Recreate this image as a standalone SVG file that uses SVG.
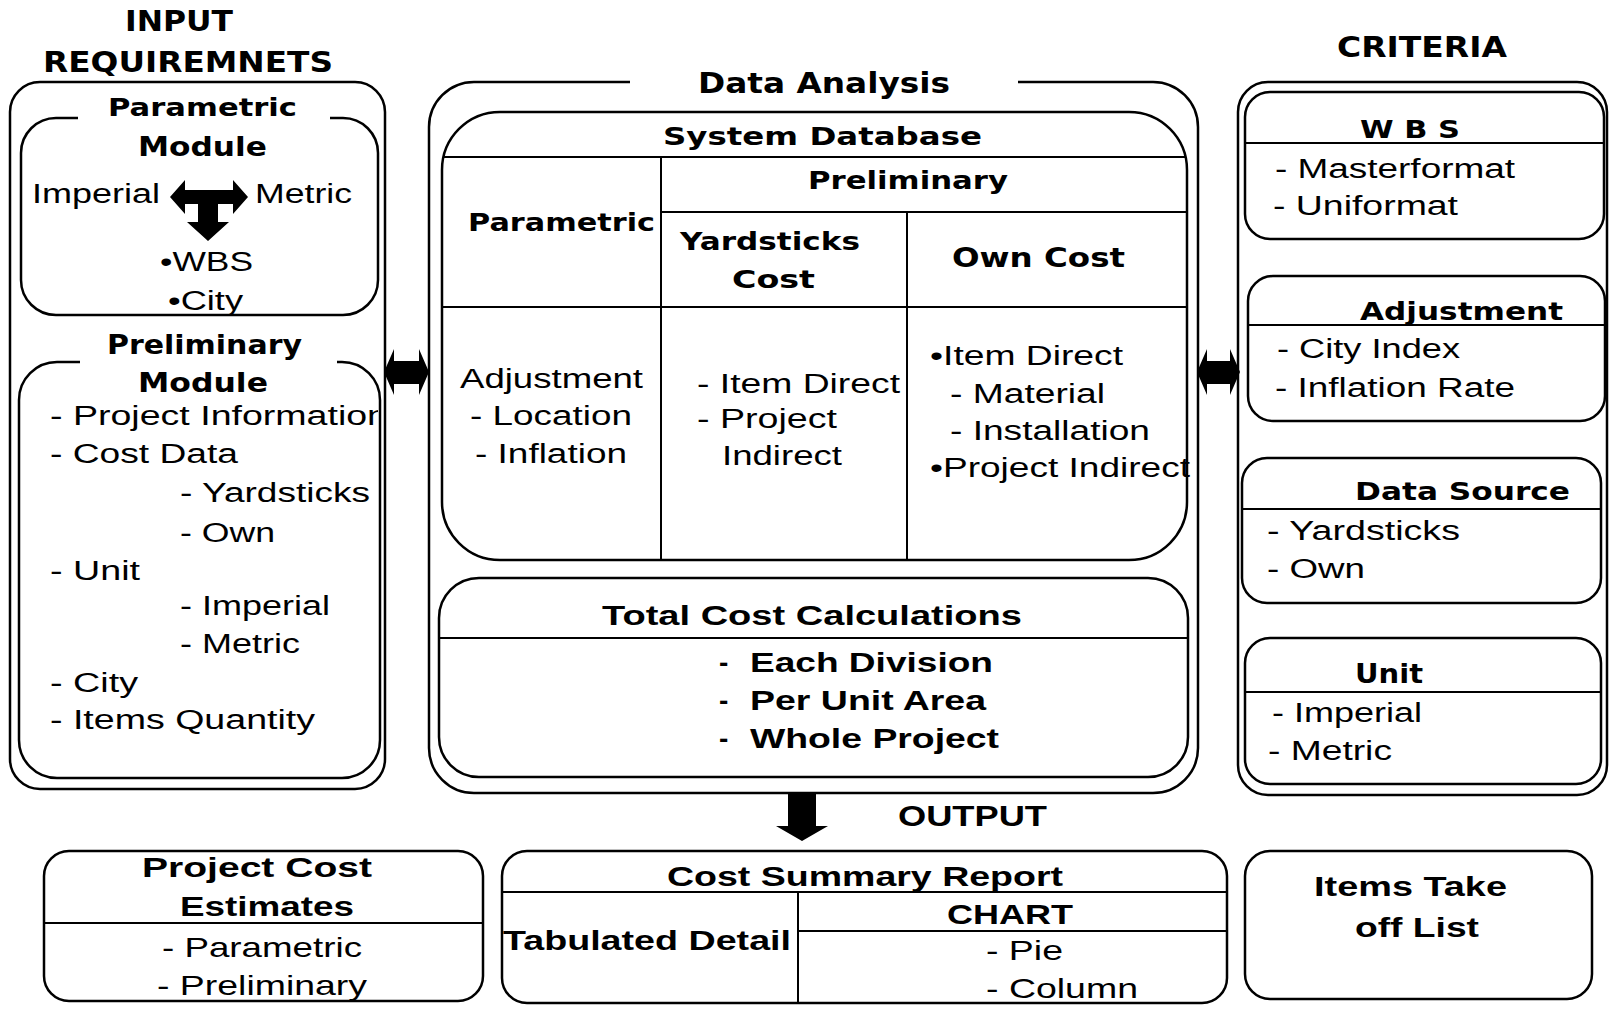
<svg xmlns="http://www.w3.org/2000/svg" width="1610" height="1009" viewBox="0 0 1610 1009">
<style>
.bx{fill:none;stroke:#000;stroke-width:2.5}
.ln{fill:none;stroke:#000;stroke-width:2}
.ar{fill:#000;stroke:none}
text{fill:#000}
.hb{font-family:"DejaVu Sans",Verdana,sans-serif;font-weight:bold}
.lb{font-family:"Liberation Sans",Arial,sans-serif;font-weight:bold}
.r{font-family:"Liberation Sans",Arial,sans-serif}
</style>
<defs>
<clipPath id="sdbClip"><rect x="442" y="112" width="745" height="448" rx="58"/></clipPath>
<clipPath id="prelimClip"><rect x="19" y="362" width="359" height="416"/></clipPath>
</defs>
<rect width="1610" height="1009" fill="#fff"/>

<g id="input-requirements">
<text class="hb" font-size="29" x="125" y="31" textLength="108" lengthAdjust="spacingAndGlyphs">INPUT</text>
<text class="hb" font-size="28" x="43" y="72" textLength="290" lengthAdjust="spacingAndGlyphs">REQUIREMNETS</text>
<rect class="bx" x="10" y="82" width="375" height="707" rx="30"/>
</g>

<g id="parametric-module">
<path class="bx" d="M78,118 H56 A35,35 0 0 0 21,153 V280 A35,35 0 0 0 56,315 H343 A35,35 0 0 0 378,280 V153 A35,35 0 0 0 343,118 H330"/>
<text class="hb" font-size="25" x="108" y="116" textLength="189" lengthAdjust="spacingAndGlyphs">Parametric</text>
<text class="hb" font-size="27" x="138" y="156" textLength="129" lengthAdjust="spacingAndGlyphs">Module</text>
<text class="r" font-size="27" x="32" y="203" textLength="128" lengthAdjust="spacingAndGlyphs">Imperial</text>
<text class="r" font-size="27" x="255" y="203" textLength="97" lengthAdjust="spacingAndGlyphs">Metric</text>
<text class="r" font-size="27" x="160" y="271" textLength="93" lengthAdjust="spacingAndGlyphs">•WBS</text>
<text class="r" font-size="27" x="168" y="310" textLength="75" lengthAdjust="spacingAndGlyphs">•City</text>
</g>

<g id="preliminary-module">
<path class="bx" d="M80,362 H57 A38,38 0 0 0 19,400 V740 A38,38 0 0 0 57,778 H342 A38,38 0 0 0 380,740 V400 A38,38 0 0 0 342,362 H337"/>
<text class="hb" font-size="27" x="107" y="354" textLength="195" lengthAdjust="spacingAndGlyphs">Preliminary</text>
<text class="hb" font-size="27" x="138" y="392" textLength="130" lengthAdjust="spacingAndGlyphs">Module</text>
<g clip-path="url(#prelimClip)">
<text class="r" font-size="27" x="50" y="425" textLength="338" lengthAdjust="spacingAndGlyphs">- Project Information</text>
</g>
<text class="r" font-size="27" x="50" y="463" textLength="188" lengthAdjust="spacingAndGlyphs">- Cost Data</text>
<text class="r" font-size="27" x="180" y="502" textLength="190" lengthAdjust="spacingAndGlyphs">- Yardsticks</text>
<text class="r" font-size="27" x="180" y="542" textLength="95" lengthAdjust="spacingAndGlyphs">- Own</text>
<text class="r" font-size="27" x="50" y="580" textLength="90" lengthAdjust="spacingAndGlyphs">- Unit</text>
<text class="r" font-size="27" x="180" y="615" textLength="150" lengthAdjust="spacingAndGlyphs">- Imperial</text>
<text class="r" font-size="27" x="180" y="653" textLength="120" lengthAdjust="spacingAndGlyphs">- Metric</text>
<text class="r" font-size="27" x="50" y="692" textLength="88" lengthAdjust="spacingAndGlyphs">- City</text>
<text class="r" font-size="27" x="50" y="729" textLength="265" lengthAdjust="spacingAndGlyphs">- Items Quantity</text>
</g>

<g id="data-analysis">
<path class="bx" d="M630,82 H474 A45,45 0 0 0 429,127 V748 A45,45 0 0 0 474,793 H1153 A45,45 0 0 0 1198,748 V127 A45,45 0 0 0 1153,82 H1018"/>
<text class="hb" font-size="28" x="698" y="93" textLength="252" lengthAdjust="spacingAndGlyphs">Data  Analysis</text>
</g>

<g id="system-database">
<rect class="bx" x="442" y="112" width="745" height="448" rx="58"/>
<g clip-path="url(#sdbClip)">
<line class="ln" x1="442" y1="157" x2="1187" y2="157"/>
<line class="ln" x1="661" y1="157" x2="661" y2="560"/>
<line class="ln" x1="661" y1="212" x2="1187" y2="212"/>
<line class="ln" x1="907" y1="212" x2="907" y2="560"/>
<line class="ln" x1="442" y1="307" x2="1187" y2="307"/>
</g>
<text class="hb" font-size="25" x="663" y="145" textLength="319" lengthAdjust="spacingAndGlyphs">System  Database</text>
<text class="hb" font-size="25" x="808" y="189" textLength="200" lengthAdjust="spacingAndGlyphs">Preliminary</text>
<text class="hb" font-size="25" x="468" y="231" textLength="187" lengthAdjust="spacingAndGlyphs">Parametric</text>
<text class="hb" font-size="25" x="680" y="250" textLength="180" lengthAdjust="spacingAndGlyphs">Yardsticks</text>
<text class="hb" font-size="25" x="732" y="288" textLength="83" lengthAdjust="spacingAndGlyphs">Cost</text>
<text class="hb" font-size="26" x="952" y="267" textLength="173" lengthAdjust="spacingAndGlyphs">Own Cost</text>
<text class="r" font-size="27" x="460" y="388" textLength="183" lengthAdjust="spacingAndGlyphs">Adjustment</text>
<text class="r" font-size="27" x="470" y="425" textLength="162" lengthAdjust="spacingAndGlyphs">- Location</text>
<text class="r" font-size="27" x="475" y="463" textLength="152" lengthAdjust="spacingAndGlyphs">- Inflation</text>
<text class="r" font-size="27" x="697" y="393" textLength="203" lengthAdjust="spacingAndGlyphs">- Item Direct</text>
<text class="r" font-size="27" x="697" y="428" textLength="140" lengthAdjust="spacingAndGlyphs">- Project</text>
<text class="r" font-size="27" x="722" y="465" textLength="120" lengthAdjust="spacingAndGlyphs">Indirect</text>
<text class="r" font-size="27" x="930" y="365" textLength="193" lengthAdjust="spacingAndGlyphs">•Item Direct</text>
<text class="r" font-size="27" x="950" y="403" textLength="155" lengthAdjust="spacingAndGlyphs">- Material</text>
<text class="r" font-size="27" x="950" y="440" textLength="200" lengthAdjust="spacingAndGlyphs">- Installation</text>
<text class="r" font-size="27" x="930" y="477" textLength="260" lengthAdjust="spacingAndGlyphs">•Project Indirect</text>
</g>

<g id="total-cost">
<rect class="bx" x="439" y="578" width="749" height="199" rx="40"/>
<line class="ln" x1="439" y1="638" x2="1188" y2="638"/>
<text class="lb" font-size="28" x="602" y="625" textLength="420" lengthAdjust="spacingAndGlyphs">Total Cost Calculations</text>
<text class="lb" font-size="28" x="719" y="672">-</text>
<text class="lb" font-size="28" x="750" y="672" textLength="243" lengthAdjust="spacingAndGlyphs">Each Division</text>
<text class="lb" font-size="28" x="719" y="710">-</text>
<text class="lb" font-size="28" x="750" y="710" textLength="236" lengthAdjust="spacingAndGlyphs">Per Unit Area</text>
<text class="lb" font-size="28" x="719" y="748">-</text>
<text class="lb" font-size="28" x="750" y="748" textLength="249" lengthAdjust="spacingAndGlyphs">Whole Project</text>
</g>

<g id="criteria">
<text class="hb" font-size="28" x="1337" y="57" textLength="170" lengthAdjust="spacingAndGlyphs">CRITERIA</text>
<rect class="bx" x="1238" y="82" width="369" height="713" rx="30"/>
</g>

<g id="crit-wbs">
<rect class="bx" x="1245" y="92" width="359" height="147" rx="25"/>
<line class="ln" x1="1245" y1="143" x2="1604" y2="143"/>
<text class="hb" font-size="25" x="1360" y="138" textLength="100" lengthAdjust="spacingAndGlyphs">W B S</text>
<text class="r" font-size="27" x="1275" y="178" textLength="240" lengthAdjust="spacingAndGlyphs">- Masterformat</text>
<text class="r" font-size="27" x="1273" y="215" textLength="185" lengthAdjust="spacingAndGlyphs">- Uniformat</text>
</g>

<g id="crit-adjustment">
<rect class="bx" x="1248" y="276" width="357" height="145" rx="25"/>
<line class="ln" x1="1248" y1="325" x2="1605" y2="325"/>
<text class="hb" font-size="25" x="1360" y="320" textLength="203" lengthAdjust="spacingAndGlyphs">Adjustment</text>
<text class="r" font-size="27" x="1277" y="358" textLength="183" lengthAdjust="spacingAndGlyphs">- City Index</text>
<text class="r" font-size="27" x="1275" y="397" textLength="240" lengthAdjust="spacingAndGlyphs">- Inflation Rate</text>
</g>

<g id="crit-datasource">
<rect class="bx" x="1242" y="458" width="359" height="145" rx="25"/>
<line class="ln" x1="1242" y1="509" x2="1601" y2="509"/>
<text class="hb" font-size="25" x="1355" y="500" textLength="215" lengthAdjust="spacingAndGlyphs">Data Source</text>
<text class="r" font-size="27" x="1267" y="540" textLength="193" lengthAdjust="spacingAndGlyphs">- Yardsticks</text>
<text class="r" font-size="27" x="1267" y="578" textLength="98" lengthAdjust="spacingAndGlyphs">- Own</text>
</g>

<g id="crit-unit">
<rect class="bx" x="1245" y="638" width="356" height="146" rx="25"/>
<line class="ln" x1="1245" y1="692" x2="1601" y2="692"/>
<text class="hb" font-size="27" x="1355" y="683" textLength="68" lengthAdjust="spacingAndGlyphs">Unit</text>
<text class="r" font-size="27" x="1272" y="722" textLength="150" lengthAdjust="spacingAndGlyphs">- Imperial</text>
<text class="r" font-size="27" x="1268" y="760" textLength="124" lengthAdjust="spacingAndGlyphs">- Metric</text>
</g>

<g id="output-label">
<text class="lb" font-size="29" x="898" y="826" textLength="149" lengthAdjust="spacingAndGlyphs">OUTPUT</text>
</g>

<g id="project-cost-estimates">
<rect class="bx" x="44" y="851" width="439" height="150" rx="25"/>
<line class="ln" x1="44" y1="923" x2="483" y2="923"/>
<text class="lb" font-size="28" x="142" y="877" textLength="230" lengthAdjust="spacingAndGlyphs">Project  Cost</text>
<text class="lb" font-size="28" x="180" y="916" textLength="174" lengthAdjust="spacingAndGlyphs">Estimates</text>
<text class="r" font-size="28" x="162" y="957" textLength="200" lengthAdjust="spacingAndGlyphs">- Parametric</text>
<text class="r" font-size="28" x="157" y="995" textLength="210" lengthAdjust="spacingAndGlyphs">- Preliminary</text>
</g>

<g id="cost-summary-report">
<rect class="bx" x="502" y="851" width="725" height="152" rx="25"/>
<line class="ln" x1="502" y1="892" x2="1227" y2="892"/>
<line class="ln" x1="798" y1="892" x2="798" y2="1003"/>
<line class="ln" x1="798" y1="931" x2="1227" y2="931"/>
<text class="lb" font-size="28" x="667" y="886" textLength="396" lengthAdjust="spacingAndGlyphs">Cost Summary Report</text>
<text class="lb" font-size="28" x="503" y="950" textLength="288" lengthAdjust="spacingAndGlyphs">Tabulated Detail</text>
<text class="lb" font-size="28" x="947" y="924" textLength="126" lengthAdjust="spacingAndGlyphs">CHART</text>
<text class="r" font-size="28" x="986" y="960" textLength="77" lengthAdjust="spacingAndGlyphs">- Pie</text>
<text class="r" font-size="28" x="986" y="998" textLength="152" lengthAdjust="spacingAndGlyphs">- Column</text>
</g>

<g id="items-takeoff-list">
<rect class="bx" x="1245" y="851" width="347" height="148" rx="25"/>
<text class="lb" font-size="28" x="1314" y="896" textLength="193" lengthAdjust="spacingAndGlyphs">Items Take</text>
<text class="lb" font-size="28" x="1355" y="937" textLength="124" lengthAdjust="spacingAndGlyphs">off List</text>
</g>

<g id="connectors">
<path class="ar" d="M170,197 L185,180 L185,190 L233,190 L233,180 L248,197 L233,214 L233,204 L218,204 L218,222 L229,222 L208,241 L187,222 L198,222 L198,204 L185,204 L185,214 Z"/>
<path class="ar" d="M384,372 L394,349 L394,361 L419,361 L419,349 L429,372 L419,395 L419,384 L394,384 L394,395 Z"/>
<path class="ar" d="M1197,372 L1207,349 L1207,361 L1230,361 L1230,349 L1240,372 L1230,395 L1230,384 L1207,384 L1207,395 Z"/>
<path class="ar" d="M788,793 H816 V826 H828 L802,841 L776,826 H788 Z"/>
</g>
</svg>
